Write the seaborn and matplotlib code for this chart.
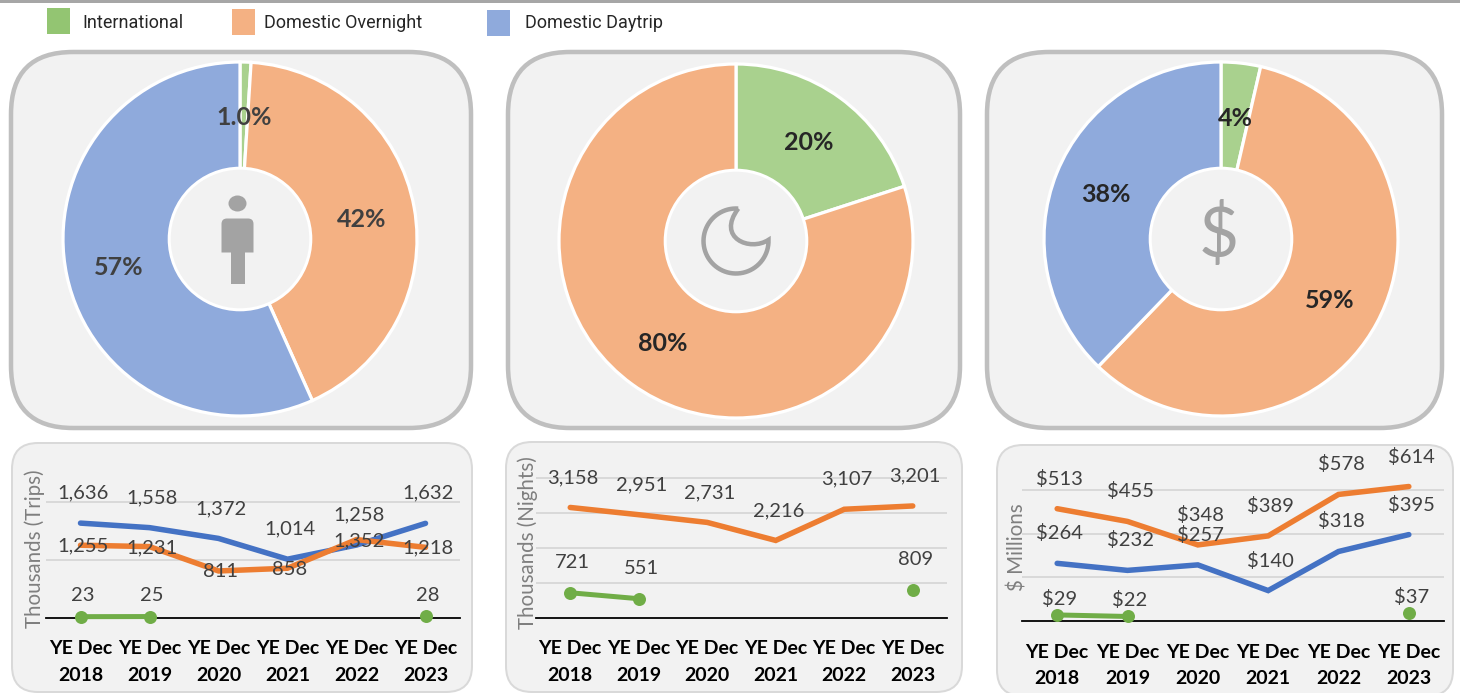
import matplotlib
matplotlib.use('Agg')
import matplotlib.pyplot as plt
from matplotlib.patches import Circle, Ellipse, FancyBboxPatch, PathPatch, Rectangle
from matplotlib.path import Path
import numpy as np
import pandas as pd
import seaborn as sns

W, H = 1460, 693
PX = 0.72  # one pixel in points at dpi 100

legend_names = ['International', 'Domestic Overnight', 'Domestic Daytrip']
years = [2018, 2019, 2020, 2021, 2022, 2023]
year_labels = ['YE Dec\n2018', 'YE Dec\n2019', 'YE Dec\n2020', 'YE Dec\n2021', 'YE Dec\n2022', 'YE Dec\n2023']

# donuts, shares
trips_share = [1.0, 42.3, 56.7]
trips_share_labels = ['1.0%', '42%', '57%']
nights_share = [20, 80]
nights_share_labels = ['20%', '80%']
spend_share = [3.6, 58.6, 37.8]
spend_share_labels = ['4%', '59%', '38%']

# lines
trips_daytrip = [1636, 1558, 1372, 1014, 1258, 1632]
trips_overnight = [1255, 1231, 811, 858, 1352, 1218]
trips_intl = [23, 25, None, None, None, 28]
nights_overnight = [3158, 2951, 2731, 2216, 3107, 3201]
nights_intl = [721, 551, None, None, None, 809]
spend_daytrip = [264, 232, 257, 140, 318, 395]
spend_overnight = [513, 455, 348, 389, 578, 614]
spend_intl = [29, 22, None, None, None, 37]

green, orange, blue = '#A9D18E', '#F4B183', '#8FAADC'
line_green, line_orange, line_blue = '#70AD47', '#ED7D31', '#4472C4'
label_grey = '#404040'
icon_grey = '#A3A3A3'

sns.set_theme(style='white')
plt.rcParams['font.family'] = ['Lato', 'DejaVu Sans']

fig = plt.figure(figsize=(W / 100, H / 100), dpi=100, facecolor='white')


def px_axes(left, top, right, bottom, zorder=1):
    ax = fig.add_axes([left / W, 1 - bottom / H, (right - left) / W, (bottom - top) / H], zorder=zorder)
    ax.patch.set_alpha(0)
    return ax


bg = px_axes(0, 0, W, H, zorder=0)
bg.set_xlim(0, W)
bg.set_ylim(H, 0)
bg.axis('off')
top = px_axes(0, 0, W, H, zorder=10)
top.set_xlim(0, W)
top.set_ylim(H, 0)
top.axis('off')

bg.add_patch(Rectangle((0, 0), W, 2.5, color='#A6A6A6', lw=0))


def panel(left, top_y, right, bottom, radius, edge, lw):
    bg.add_patch(FancyBboxPatch((left, top_y), right - left, bottom - top_y,
                                boxstyle=f'round,pad=0,rounding_size={radius}',
                                fc='#F2F2F2', ec=edge, lw=lw * PX))


panel(11, 52, 471, 428, 62, '#BFBFBF', 4.5)
panel(508, 52, 960, 428, 62, '#BFBFBF', 4.5)
panel(987, 52, 1442, 428, 62, '#BFBFBF', 4.5)
panel(12, 443, 472, 692, 26, '#D9D9D9', 2)
panel(506, 442, 962, 692, 26, '#D9D9D9', 2)
panel(997, 445, 1453, 696, 26, '#D9D9D9', 2)

# legend
for x, y0, c, name, tx in [(47, 8, '#93C572', legend_names[0], 82),
                           (232, 9, orange, legend_names[1], 264),
                           (487, 10, blue, legend_names[2], 525)]:
    top.add_patch(Rectangle((x, y0), 23, 26, color=c, lw=0))
    top.text(tx, 22.5, name, fontsize=13, family='Roboto', color='#262626', va='center', ha='left')


def donut(cx, cy, values, labels, colors, text_color):
    r = 177
    ax = px_axes(cx - r * 1.1, cy - r * 1.1, cx + r * 1.1, cy + r * 1.1, zorder=2)
    wedges, _, autos = ax.pie(values, colors=colors, startangle=90, counterclock=False, radius=1,
                              autopct='%d', pctdistance=0.70,
                              wedgeprops={'edgecolor': 'white', 'linewidth': 3.2 * PX})
    for t, lab in zip(autos, labels):
        t.set_text(lab)
        t.set_fontsize(18)
        t.set_fontweight('bold')
        t.set_color(text_color)
        tx, ty = t.get_position()
        t.set_position((tx, ty - 0.012))
    ax.add_patch(Circle((0, 0), 0.40, fc='#F2F2F2', ec='white', lw=3 * PX, zorder=5))
    ax.set_xlim(-1.1, 1.1)
    ax.set_ylim(-1.1, 1.1)


donut(240, 239, trips_share, trips_share_labels, [green, orange, blue], label_grey)
donut(736, 241, nights_share, nights_share_labels, [green, orange], '#262626')
donut(1221, 239, spend_share, spend_share_labels, [green, orange, blue], '#262626')

# person icon
top.add_patch(Ellipse((237.5, 203.5), 18, 16, color=icon_grey, lw=0))
body_pts = [(221.5, 252.5), (221.5, 224), (221.5, 218.5), (227, 218.5), (248, 218.5), (253.5, 218.5), (253.5, 224),
            (253.5, 252.5), (221.5, 252.5)]
body_codes = [Path.MOVETO, Path.LINETO, Path.CURVE3, Path.CURVE3, Path.LINETO, Path.CURVE3, Path.CURVE3,
              Path.LINETO, Path.CLOSEPOLY]
top.add_patch(PathPatch(Path(body_pts, body_codes), color=icon_grey, lw=0))
top.add_patch(Rectangle((230.5, 250), 14, 34, color=icon_grey, lw=0))

# moon icon
moon_pts = [(736 + 32.5 * np.cos(a), 241 - 32.5 * np.sin(a)) for a in np.radians(np.linspace(86, 362, 60))]
codes = [Path.MOVETO] + [Path.LINETO] * (len(moon_pts) - 1) + [Path.CURVE4, Path.CURVE4, Path.CURVE4]
moon_pts = moon_pts + [(750, 252), (716, 238), moon_pts[0]]
top.add_patch(PathPatch(Path(moon_pts, codes), fc='none', ec=icon_grey, lw=4.5 * PX, joinstyle='miter'))

# dollar icon
top.text(1219, 236, '$', fontsize=50, color=icon_grey, ha='center', va='center')


def line_chart(left, right, base, px_per_unit, axis_top, ticks, series, ylabel, ylabel_x, ylabel_y):
    ax = px_axes(left, axis_top, right, base, zorder=3)
    for values, color, off in series:
        df = pd.DataFrame({'year': years, 'val': values}).astype(float)
        df['run'] = df['val'].isna().cumsum()
        df = df.dropna()
        if color == line_green:
            sns.lineplot(data=df, x='year', y='val', units='run', estimator=None, color=color, ax=ax, zorder=4,
                         lw=5 * PX, marker='o', markersize=13 * PX, markeredgewidth=0, clip_on=False)
        else:
            sns.lineplot(data=df, x='year', y='val', color=color, ax=ax, lw=5.5 * PX, clip_on=False, zorder=4,
                         solid_capstyle='round', solid_joinstyle='miter')
        for x, v in zip(df['year'], df['val']):
            ax.annotate(f"{'$' if ylabel.startswith('$') else ''}{v:,.0f}", (x, v), xytext=(2.5 * PX, off * PX),
                        textcoords='offset points', ha='center', va='center', fontsize=14.5,
                        color=label_grey, zorder=6)
    ax.set_xlim(2017.5, 2023.5)
    ax.set_ylim(0, (base - axis_top) / px_per_unit)
    ax.set_yticks(ticks)
    ax.set_yticklabels([])
    ax.set_xticks(years)
    ax.set_xticklabels(year_labels, fontweight='bold', fontsize=14, color='black', linespacing=1.7)
    ax.tick_params(axis='both', length=0, pad=16)
    ax.grid(axis='y', color='#D9D9D9', lw=2 * PX)
    ax.grid(axis='x', visible=False)
    ax.set_axisbelow(True)
    sns.despine(ax=ax, left=True)
    ax.spines['bottom'].set_color('black')
    ax.spines['bottom'].set_linewidth(1.8 * PX)
    ax.set_xlabel('')
    ax.set_ylabel(ylabel, fontsize=14.8, color='#7F7F7F', labelpad=0)
    ax.yaxis.set_label_coords((ylabel_x - left) / (right - left), (base - ylabel_y) / (base - axis_top))


line_chart(46, 460, 618, 0.058, 450, [1000, 2000],
           [(trips_daytrip, line_blue, 30), (trips_overnight, line_orange, -1), (trips_intl, line_green, 21)],
           'Thousands (Trips)', 45, 549)
line_chart(536, 947, 618, 0.035, 450, [1000, 2000, 3000, 4000],
           [(nights_overnight, line_orange, 30), (nights_intl, line_green, 30)],
           'Thousands (Nights)', 538, 543)
line_chart(1022, 1444, 621.3, 0.2195, 450, [200, 400, 600],
           [(spend_overnight, line_orange, 30), (spend_daytrip, line_blue, 30), (spend_intl, line_green, 16)],
           '$ Millions', 1028, 547)

fig.savefig('out.png', dpi=100)
